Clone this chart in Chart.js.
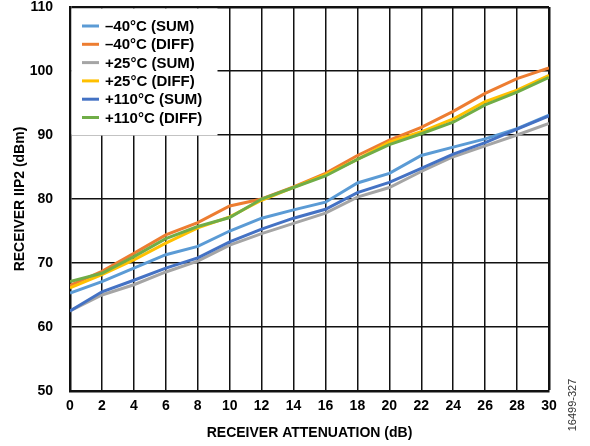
<!DOCTYPE html>
<html>
<head>
<meta charset="utf-8">
<script src="https://cdn.jsdelivr.net/npm/chart.js@4.4.1/dist/chart.umd.min.js"></script>
<style>
  html, body { margin: 0; padding: 0; background: #fff; }
  #wrap { width: 590px; height: 446px; position: relative; }
</style>
</head>
<body>
<div id="wrap"><canvas id="iip2Chart" width="590" height="446"></canvas></div>
<script>
// Datos (atenuación en dB, IIP2 en dBm)
const attenuation = [0, 2, 4, 6, 8, 10, 12, 14, 16, 18, 20, 22, 24, 26, 28, 30];

const minus40Sum  = [65.3, 67.1, 69.2, 71.3, 72.6, 75.0, 77.0, 78.3, 79.5, 82.5, 84.0, 86.8, 88.1, 89.4, 91.0, 93.1];
const minus40Diff = [66.5, 68.7, 71.5, 74.4, 76.3, 78.9, 80.0, 81.9, 84.0, 86.8, 89.2, 91.2, 93.7, 96.5, 98.8, 100.5];
const plus25Sum   = [62.5, 65.0, 66.6, 68.6, 70.3, 72.8, 74.6, 76.2, 77.8, 80.3, 81.8, 84.3, 86.6, 88.3, 90.0, 91.8];
const plus25Diff  = [66.1, 68.2, 70.5, 73.1, 75.5, 77.2, 79.8, 81.8, 83.8, 86.2, 88.9, 90.5, 92.5, 95.2, 97.0, 99.3];
const plus110Sum  = [62.5, 65.5, 67.3, 69.2, 70.8, 73.3, 75.3, 77.0, 78.4, 81.0, 82.6, 84.8, 87.0, 88.8, 90.9, 93.0];
const plus110Diff = [67.1, 68.4, 71.0, 73.8, 75.7, 77.1, 80.0, 81.8, 83.6, 86.2, 88.5, 90.2, 92.0, 94.7, 96.7, 99.0];

const seriesLabels = ["\u201340°C (SUM)", "\u201340°C (DIFF)", "+25°C (SUM)", "+25°C (DIFF)", "+110°C (SUM)", "+110°C (DIFF)"];
const seriesValues = [minus40Sum, minus40Diff, plus25Sum, plus25Diff, plus110Sum, plus110Diff];
const seriesColors = ["#5B9BD5", "#ED7D31", "#A5A5A5", "#FFC000", "#4472C4", "#70AD47"];

const yTicks = [50, 60, 70, 80, 90, 100, 110];
const xTicks = attenuation;

const FONT = "'Liberation Sans', Arial, sans-serif";

// Construir los datasets a partir de los arrays
const datasets = seriesValues.map((vals, i) => ({
  label: seriesLabels[i],
  data: vals.map((v, j) => ({ x: attenuation[j], y: v })),
  borderColor: seriesColors[i],
  backgroundColor: seriesColors[i],
  borderWidth: 3,
  pointRadius: 0,
  tension: 0,
  fill: false,
  order: seriesValues.length - i // la última serie queda encima
}));

// Leyenda dibujada dentro del área del gráfico
const insideLegend = {
  id: "insideLegend",
  beforeDatasetsDraw(chart) {
    const { ctx, chartArea } = chart;
    ctx.save();
    ctx.fillStyle = "#fff";
    ctx.fillRect(chartArea.left + 1.5, chartArea.top + 1.5, 216 - chartArea.left, 134 - chartArea.top);
    ctx.font = "bold 15px " + FONT;
    ctx.textBaseline = "middle";
    ctx.textAlign = "left";
    seriesLabels.forEach((lab, i) => {
      const y = 26 + i * 18.3;
      ctx.strokeStyle = seriesColors[i];
      ctx.lineWidth = 3;
      ctx.beginPath();
      ctx.moveTo(82, y);
      ctx.lineTo(99, y);
      ctx.stroke();
      ctx.fillStyle = "#000";
      ctx.fillText(lab, 105, y + 1);
    });
    ctx.restore();
  },
  afterDraw(chart) {
    // Código de figura en el margen derecho
    const { ctx } = chart;
    ctx.save();
    ctx.translate(573, 405);
    ctx.rotate(-Math.PI / 2);
    ctx.font = "11px " + FONT;
    ctx.fillStyle = "#333";
    ctx.textAlign = "center";
    ctx.textBaseline = "middle";
    ctx.fillText("16499-327", 0, 0);
    ctx.restore();
  }
};

const ctx = document.getElementById("iip2Chart").getContext("2d");
new Chart(ctx, {
  type: "line",
  data: { datasets: datasets },
  options: {
    responsive: false,
    animation: false,
    layout: { padding: { top: 7, right: 41, left: 0, bottom: 0 } },
    plugins: {
      legend: { display: false },
      tooltip: { enabled: false }
    },
    scales: {
      x: {
        type: "linear",
        min: 0,
        max: 30,
        afterBuildTicks: (axis) => { axis.ticks = xTicks.map(v => ({ value: v })); },
        afterFit: (axis) => { axis.height = 55; axis.paddingRight = 0; axis.paddingLeft = 0; },
        grid: {
          color: "#111",
          lineWidth: (c) => (c.tick && c.tick.value === 30 ? 2.5 : 1.5),
          drawTicks: false
        },
        border: { display: true, color: "#111", width: 2.5 },
        ticks: {
          color: "#000",
          font: { family: FONT, size: 14, weight: "bold" },
          padding: 7,
          maxRotation: 0
        },
        title: {
          display: true,
          text: "RECEIVER ATTENUATION (dB)",
          color: "#000",
          font: { family: FONT, size: 14, weight: "bold" },
          padding: { top: 4, bottom: 4 }
        }
      },
      y: {
        type: "linear",
        min: 50,
        max: 110,
        afterBuildTicks: (axis) => { axis.ticks = yTicks.map(v => ({ value: v })); },
        afterFit: (axis) => { axis.width = 70; axis.paddingTop = 0; axis.paddingBottom = 0; },
        grid: {
          color: "#111",
          lineWidth: (c) => (c.tick && c.tick.value === 110 ? 2.5 : 1.5),
          drawTicks: false
        },
        border: { display: true, color: "#111", width: 2.5 },
        ticks: {
          color: "#000",
          font: { family: FONT, size: 14, weight: "bold" },
          padding: 17
        },
        title: {
          display: true,
          text: "RECEIVER IIP2 (dBm)",
          color: "#000",
          font: { family: FONT, size: 14, weight: "bold" },
          padding: { top: 12, bottom: 4 }
        }
      }
    }
  },
  plugins: [insideLegend]
});
</script>
</body>
</html>
